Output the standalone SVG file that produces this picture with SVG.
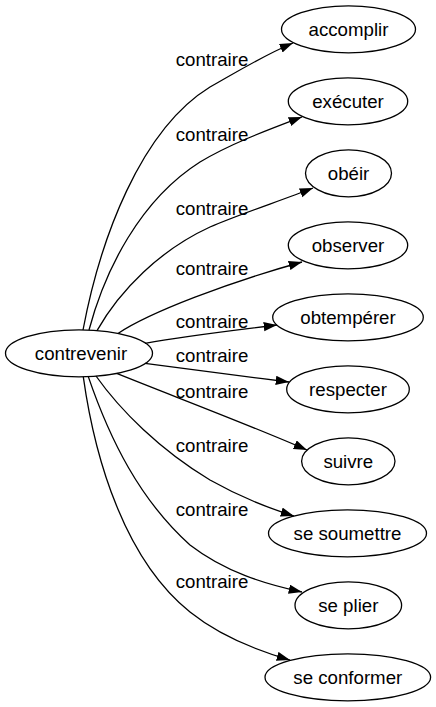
<svg xmlns="http://www.w3.org/2000/svg" width="436" height="707" viewBox="0 0 436 707">
<defs>
<style>
.node ellipse{fill:none;stroke:#000;stroke-width:1.3}
text{font-family:"Liberation Sans",Arial,sans-serif;font-size:18.67px;fill:#000;text-anchor:middle}
.edges path{fill:none;stroke:#000;stroke-width:1.3}
</style>
<marker id="arr" markerUnits="userSpaceOnUse" markerWidth="14" markerHeight="10" refX="13.3" refY="4.67" orient="auto">
<path d="M0,0 L13.3,4.67 L0,9.33 z" fill="#000"/>
</marker>
</defs>
<rect width="436" height="707" fill="#fff"/>
<g class="edges">
<path marker-end="url(#arr)" d="M83,330 C100,240 140,130 210,87 C230,76 260,57 293,43"/>
<path marker-end="url(#arr)" d="M89,330 C105,270 140,200 200,162 C230,144 265,131 302,117"/>
<path marker-end="url(#arr)" d="M97,330.6 C120,290 160,250 210,227 C240,214 280,201 313,188"/>
<path marker-end="url(#arr)" d="M118,333.5 C150,312 230,282 302,262"/>
<path marker-end="url(#arr)" d="M145,343.3 C185,336 235,330 277,325"/>
<path marker-end="url(#arr)" d="M145,363.3 C190,369 240,376 289,382"/>
<path marker-end="url(#arr)" d="M116.7,373.4 C170,395 250,425 307,450"/>
<path marker-end="url(#arr)" d="M96,376 C120,410 160,450 210,480 C240,497 265,507 294,516"/>
<path marker-end="url(#arr)" d="M88.3,376.6 C110,440 140,500 190,545 C225,572 265,584 302,592"/>
<path marker-end="url(#arr)" d="M83.3,376.8 C95,460 125,560 190,612 C220,636 255,650 290,660"/>
<text x="212" y="65.7">contraire</text>
<text x="212" y="141">contraire</text>
<text x="212" y="215">contraire</text>
<text x="212" y="275">contraire</text>
<text x="212" y="327.7">contraire</text>
<text x="212" y="361.7">contraire</text>
<text x="212" y="398">contraire</text>
<text x="212" y="451.7">contraire</text>
<text x="212" y="515.7">contraire</text>
<text x="212" y="588">contraire</text>
</g>
<g id="contrevenir" class="node"><ellipse cx="79" cy="353.3" rx="73.5" ry="23.5"/><text x="81" y="359.5">contrevenir</text></g>
<g id="accomplir" class="node"><ellipse cx="348.5" cy="29.3" rx="67" ry="23.5"/><text x="348.5" y="35.5">accomplir</text></g>
<g id="executer" class="node"><ellipse cx="348" cy="101.3" rx="59.7" ry="23.5"/><text x="348" y="107.5">exécuter</text></g>
<g id="obeir" class="node"><ellipse cx="348.5" cy="173.3" rx="43" ry="23.5"/><text x="348.5" y="179.5">obéir</text></g>
<g id="observer" class="node"><ellipse cx="348" cy="245.3" rx="59.7" ry="23.5"/><text x="348" y="251.5">observer</text></g>
<g id="obtemperer" class="node"><ellipse cx="348" cy="317.3" rx="75.3" ry="23.5"/><text x="348" y="323.5">obtempérer</text></g>
<g id="respecter" class="node"><ellipse cx="348" cy="389.3" rx="61.3" ry="23.5"/><text x="348" y="395.5">respecter</text></g>
<g id="suivre" class="node"><ellipse cx="348.3" cy="461.3" rx="46.7" ry="23.5"/><text x="348.3" y="467.5">suivre</text></g>
<g id="se-soumettre" class="node"><ellipse cx="347.5" cy="533.3" rx="79" ry="23.5"/><text x="347.5" y="539.5">se soumettre</text></g>
<g id="se-plier" class="node"><ellipse cx="348.3" cy="605.3" rx="53.3" ry="23.5"/><text x="348.3" y="611.5">se plier</text></g>
<g id="se-conformer" class="node"><ellipse cx="347.8" cy="677.3" rx="82.8" ry="23.5"/><text x="347.8" y="683.5">se conformer</text></g>
</svg>
